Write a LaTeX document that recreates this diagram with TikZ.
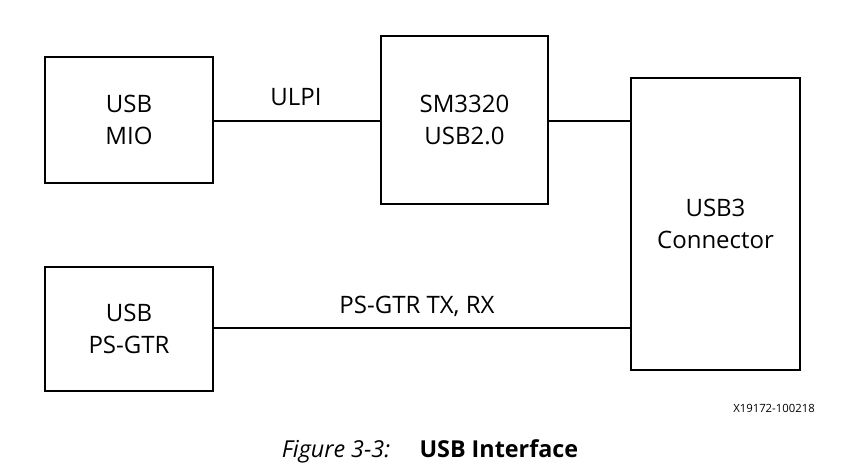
\documentclass[tikz,border=0pt]{standalone}
\usepackage{fontspec}
\setmainfont{Open Sans}
\begin{document}
\begin{tikzpicture}[x=0.75pt,y=-0.75pt,
  box/.style={draw,line width=1.1pt,align=center,font=\fontsize{18}{24}\selectfont},
  wire/.style={line width=1.1pt},
  lbl/.style={font=\fontsize{18}{21}\selectfont}]
\useasboundingbox (0,0) rectangle (853,469);
\node[box,minimum width=126pt,minimum height=94.5pt] (mio) at (129,120) {USB\\MIO};
\node[box,minimum width=125pt,minimum height=126pt] (sm) at (464.5,120) {SM3320\\USB2.0};
\node[box,minimum width=126.75pt,minimum height=219pt] (con) at (715.5,224) {USB3\\Connector};
\node[box,minimum width=126pt,minimum height=93pt] (gtr) at (129,329) {USB\\PS-GTR};
\coordinate (c1) at (631,121);
\coordinate (c2) at (631,328);
\draw[wire] (mio.east |- 0,121) -- (sm.west |- 0,121);
\draw[wire] (sm.east |- 0,121) -- (c1);
\draw[wire] (gtr.east |- 0,328) -- (c2);
\node[lbl] (ulpi) at (296,97) {ULPI};
\node[lbl] (ps) at (417,306) {PS-GTR TX, RX};
\node[font=\fontsize{8.5}{10}\selectfont] (id) at (774,408) {X19172-100218};
\node[font=\fontsize{17.5}{20}\selectfont] (cap) at (430,451) {\textit{Figure 3-3:}\quad\ \textbf{USB Interface}};
\end{tikzpicture}
\end{document}
